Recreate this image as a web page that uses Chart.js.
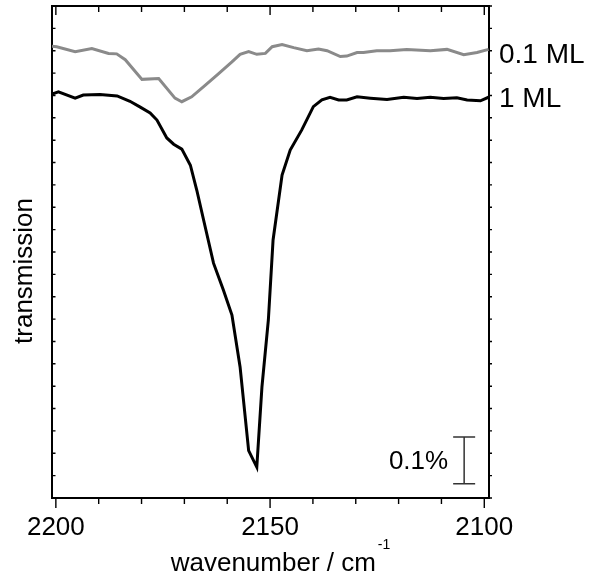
<!DOCTYPE html>
<html>
<head>
<meta charset="utf-8">
<script src="https://cdn.jsdelivr.net/npm/chart.js@4.4.1/dist/chart.umd.min.js"></script>
<style>
  html, body { margin: 0; padding: 0; background: #fff; }
</style>
</head>
<body>
<canvas id="spec" width="589" height="575"></canvas>
<script>
// IR spectra, wavenumber in cm-1, transmission in % (offset)
const wn1ML = [2200.9, 2199.4, 2195.5, 2193.6, 2189.7, 2185.7, 2182.7, 2180.3, 2178.0, 2176.4,
               2174.1, 2172.5, 2170.6, 2168.6, 2167.1, 2165.5, 2163.2, 2160.9, 2158.9, 2157.0,
               2155.0, 2153.1, 2151.9, 2150.4, 2149.3, 2147.2, 2145.3, 2142.6, 2139.9, 2137.9,
               2136.0, 2134.0, 2132.1, 2129.7, 2126.6, 2122.7, 2118.8, 2115.7, 2112.6, 2109.5,
               2106.4, 2104.0, 2100.9, 2099.0];
const tr1ML = [0.903, 0.908, 0.894, 0.901, 0.902, 0.899, 0.887, 0.874, 0.861, 0.845,
               0.805, 0.791, 0.780, 0.744, 0.688, 0.621, 0.525, 0.465, 0.409, 0.293,
               0.106, 0.069, 0.248, 0.398, 0.577, 0.722, 0.778, 0.823, 0.875, 0.890,
               0.896, 0.890, 0.890, 0.897, 0.894, 0.891, 0.896, 0.893, 0.896, 0.893,
               0.895, 0.890, 0.888, 0.896];

const wn01ML = [2200.9, 2199.8, 2195.5, 2191.6, 2187.7, 2185.8, 2183.8, 2179.9, 2176.0, 2172.2,
                2170.6, 2168.3, 2165.1, 2162.0, 2158.9, 2157.0, 2155.0, 2153.1, 2151.1, 2149.5,
                2147.2, 2144.5, 2141.4, 2138.7, 2136.7, 2133.6, 2132.1, 2129.7, 2128.2, 2125.1,
                2122.0, 2118.1, 2112.6, 2108.7, 2104.8, 2101.7, 2099.0];
const tr01ML = [1.010, 1.009, 0.998, 1.005, 0.994, 0.993, 0.980, 0.936, 0.938, 0.894,
                0.886, 0.897, 0.923, 0.949, 0.975, 0.992, 0.998, 0.992, 0.994, 1.009,
                1.014, 1.007, 1.000, 1.004, 1.000, 0.987, 0.988, 0.996, 0.996, 1.000,
                1.000, 1.003, 1.000, 1.003, 0.991, 0.996, 1.003];

const seriesNames = ['1 ML', '0.1 ML'];
const xMajorTicks = [2200, 2150, 2100];
const xMinorTicks = [2190, 2180, 2170, 2160, 2140, 2130, 2120, 2110];
const xRange = [2098.9, 2200.9];
const yRange = [0, 1.1];
const yTickStep = 0.05;

// scale bar: position on the x axis and its ends in transmission units
const scaleBarWn = 2104.7;
const scaleBarEnds = [0.032, 0.1365];
const scaleBarLabel = '0.1%';

const FONT = '"Liberation Sans", Arial, Helvetica, sans-serif';
Chart.defaults.font.family = FONT;

function toPoints(xs, ys) {
    return xs.map((x, i) => ({ x: x, y: ys[i] }));
}

const yTicks = [];
for (let v = yRange[0]; v <= yRange[1] + 1e-9; v += yTickStep) yTicks.push(v);

// tick marks, series labels, scale bar and axis titles
const decorations = {
    id: 'decorations',
    afterDraw(chart) {
        const ctx = chart.ctx;
        const a = chart.chartArea;
        const xs = chart.scales.x;
        const ys = chart.scales.y;
        ctx.save();

        ctx.strokeStyle = '#000';
        ctx.lineWidth = 1.4;
        ctx.beginPath();
        xMajorTicks.forEach(v => {
            const p = xs.getPixelForValue(v);
            ctx.moveTo(p, a.bottom); ctx.lineTo(p, a.bottom + 10);
            ctx.moveTo(p, a.top); ctx.lineTo(p, a.top + 9);
        });
        xMinorTicks.forEach(v => {
            const p = xs.getPixelForValue(v);
            ctx.moveTo(p, a.bottom); ctx.lineTo(p, a.bottom + 6);
            ctx.moveTo(p, a.top); ctx.lineTo(p, a.top + 6);
        });
        yTicks.forEach(v => {
            const p = ys.getPixelForValue(v);
            ctx.moveTo(a.left, p); ctx.lineTo(a.left + 3.5, p);
            ctx.moveTo(a.right, p); ctx.lineTo(a.right + 3, p);
        });
        ctx.stroke();

        ctx.fillStyle = '#000';

        // series labels beside the right end of each curve
        ctx.font = '28px ' + FONT;
        ctx.textAlign = 'left';
        ctx.textBaseline = 'alphabetic';
        const labelDrop = { '1 ML': 10, '0.1 ML': 14 };
        chart.data.datasets.forEach(ds => {
            const last = ds.data[ds.data.length - 1];
            ctx.fillText(ds.label, a.right + 10, ys.getPixelForValue(last.y) + labelDrop[ds.label]);
        });

        // scale bar
        ctx.font = '26px ' + FONT;
        const bx = xs.getPixelForValue(scaleBarWn);
        const b0 = ys.getPixelForValue(scaleBarEnds[0]);
        const b1 = ys.getPixelForValue(scaleBarEnds[1]);
        ctx.strokeStyle = '#333';
        ctx.lineWidth = 1.5;
        ctx.beginPath();
        ctx.moveTo(bx, b0); ctx.lineTo(bx, b1);
        ctx.moveTo(bx - 11, b0); ctx.lineTo(bx + 11, b0);
        ctx.moveTo(bx - 11, b1); ctx.lineTo(bx + 11, b1);
        ctx.stroke();
        ctx.textAlign = 'right';
        ctx.fillText(scaleBarLabel, bx - 16, (b0 + b1) / 2 + 9);

        // y title
        ctx.save();
        ctx.translate(a.left - 20, (a.top + a.bottom) / 2 + 19);
        ctx.rotate(-Math.PI / 2);
        ctx.textAlign = 'center';
        ctx.fillText('transmission', 0, 0);
        ctx.restore();

        // x title with superscript
        const main = 'wavenumber / cm';
        const sup = '-1';
        ctx.font = '26px ' + FONT;
        const mw = ctx.measureText(main).width;
        ctx.font = '14px ' + FONT;
        const sw = ctx.measureText(sup).width;
        const x0 = (a.left + a.right) / 2 + 10 - (mw + sw + 2) / 2;
        const base = a.bottom + 73;
        ctx.textAlign = 'left';
        ctx.font = '26px ' + FONT;
        ctx.fillText(main, x0, base);
        ctx.font = '14px ' + FONT;
        ctx.fillText(sup, x0 + mw + 2, base - 22);

        ctx.restore();
    }
};

const frame = { display: true, width: 2, color: '#000' };

new Chart(document.getElementById('spec'), {
    type: 'line',
    data: {
        datasets: [
            {
                label: seriesNames[1],
                data: toPoints(wn01ML, tr01ML),
                borderColor: '#8a8a8a',
                borderWidth: 3,
                pointRadius: 0,
                tension: 0,
                fill: false
            },
            {
                label: seriesNames[0],
                data: toPoints(wn1ML, tr1ML),
                borderColor: '#000',
                borderWidth: 3,
                pointRadius: 0,
                tension: 0,
                fill: false
            }
        ]
    },
    options: {
        responsive: false,
        animation: false,
        layout: { padding: { top: 6, left: 0, right: 0, bottom: 0 } },
        plugins: {
            legend: { display: false },
            tooltip: { enabled: false }
        },
        scales: {
            x: {
                type: 'linear',
                position: 'bottom',
                reverse: true,
                min: xRange[0],
                max: xRange[1],
                afterBuildTicks: s => { s.ticks = xMajorTicks.map(v => ({ value: v })); },
                ticks: {
                    color: '#000',
                    font: { size: 26 },
                    padding: 14,
                    maxRotation: 0,
                    autoSkip: false,
                    callback: v => String(v)
                },
                grid: { display: false, drawTicks: false },
                border: frame,
                afterFit: s => { s.height = 77; }
            },
            x2: {
                type: 'linear',
                position: 'top',
                reverse: true,
                min: xRange[0],
                max: xRange[1],
                ticks: { display: false },
                grid: { display: false, drawTicks: false },
                border: frame,
                afterFit: s => { s.height = 0; }
            },
            y: {
                position: 'left',
                min: yRange[0],
                max: yRange[1],
                ticks: { display: false },
                grid: { display: false, drawTicks: false },
                border: frame,
                afterFit: s => { s.width = 52; }
            },
            y2: {
                position: 'right',
                min: yRange[0],
                max: yRange[1],
                ticks: { display: false },
                grid: { display: false, drawTicks: false },
                border: frame,
                afterFit: s => { s.width = 100; }
            }
        }
    },
    plugins: [decorations]
});
</script>
</body>
</html>
